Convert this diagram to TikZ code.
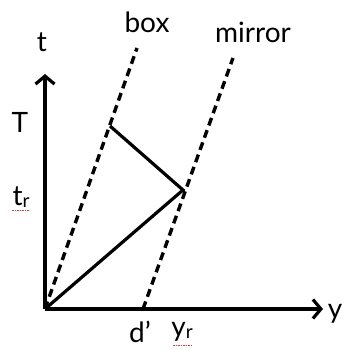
\documentclass[tikz,border=0pt]{standalone}
\usepackage{fontspec}
\setmainfont{Lato}
\usepackage{xcolor}
\usetikzlibrary{positioning, arrows.meta}
\definecolor{axInk}{HTML}{000000}
\definecolor{spRed}{HTML}{E03C3C}

\begin{document}
\begin{tikzpicture}[x=1pt, y=1pt,
      axis/.style={-{Straight Barb[length=8pt, width=19pt, line width=3.2pt]}, line width=3.6pt, axInk},
      wall/.style={line width=3.4pt, dash pattern=on 8pt off 5pt, axInk},
      ray/.style={line width=3.2pt, axInk},
      lbl/.style={font=\fontsize{28}{30}\selectfont, text=axInk, inner sep=0pt},
      spell/.style={spRed, line width=1pt, dash pattern=on 1.5pt off 1pt}]
      \useasboundingbox (0,0) rectangle (343,350);
      % axes
      \coordinate (orig) at (45,41);
      \coordinate (tTip) at (45,276);
      \coordinate (yTip) at (323,41);
      \draw[axis] (orig) -- (tTip);
      \draw[axis] (orig) -- (yTip);
      % box and mirror world lines
      \coordinate (boxTop) at (137,302);
      \coordinate (mirBot) at (143,41);
      \coordinate (mirTop) at (233,292);
      \draw[wall] (orig) -- (boxTop);
      \draw[wall] (mirBot) -- (mirTop);
      % light ray
      \coordinate (refl) at (183,160);
      \coordinate (back) at (110,224);
      \draw[ray, line join=miter] (orig) -- (refl) -- (back);
      % labels
      \node[lbl] (tLab) at (42,308) {t};
      \node[lbl] (yLab) at (335,36) {y};
      \node[lbl] (TLab) at (20,228) {T};
      \node[lbl] (trLab) at (21,153) {t\raisebox{-2pt}{\fontsize{19}{21}\selectfont r}};
      \node[lbl] (boxLab) at (147,328) {box};
      \node[lbl] (mirLab) at (253,318) {mirror};
      \node[lbl] (dLab) at (140,18) {d’};
      \node[lbl] (yrLab) at (182,18) {y\raisebox{-2pt}{\fontsize{19}{21}\selectfont r}};
      \draw[spell] ([yshift=-3pt]trLab.south west) -- ([yshift=-3pt]trLab.south east);
      \draw[spell] ([yshift=-4pt, xshift=2pt]yrLab.south west) -- ([yshift=-4pt]yrLab.south east);
    \end{tikzpicture}
\end{document}
